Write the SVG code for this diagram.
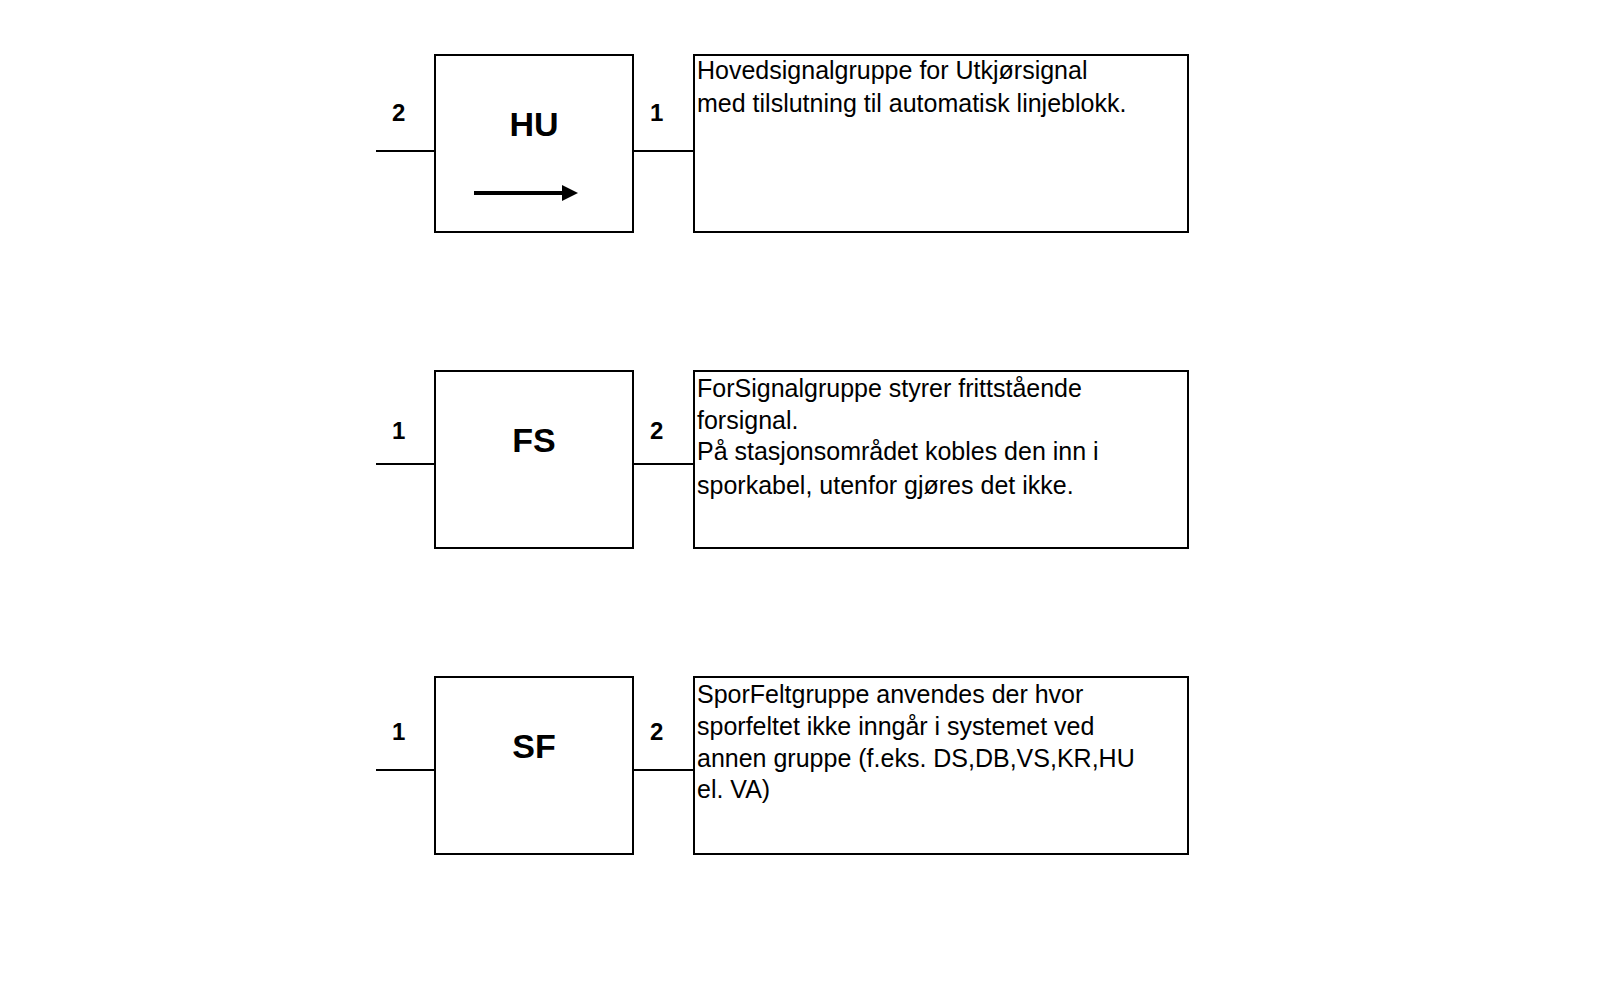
<svg xmlns="http://www.w3.org/2000/svg" width="1600" height="984" viewBox="0 0 1600 984">
<style>
.b{fill:#fff;stroke:#000;stroke-width:2}
.l{stroke:#000;stroke-width:2;fill:none}
.n{font-family:"Liberation Sans",Arial,sans-serif;font-weight:bold;font-size:24px}
.t{font-family:"Liberation Sans",Arial,sans-serif;font-weight:bold;font-size:34px;text-anchor:middle}
.d{font-family:"Liberation Sans",Arial,sans-serif;font-size:25px}
</style>
<defs><marker id="a" markerWidth="4" markerHeight="4" refX="3" refY="2" orient="auto"><path d="M0,0L4,2L0,4z"/></marker></defs>
<rect width="1600" height="984" fill="#fff"/>
<g id="connectors">
<path class="l" d="M376,151H435M633,151H694M376,464H435M633,464H694M376,770H435M633,770H694"/>
</g>
<g id="HU">
<rect class="b" x="435" y="55" width="198" height="177"/>
<text class="t" x="534" y="136">HU</text>
<line x1="474" y1="193" x2="574" y2="193" stroke="#000" stroke-width="4" marker-end="url(#a)"/>
<text class="n" x="392" y="121">2</text><text class="n" x="650" y="121">1</text>
</g>
<g id="HU-desc">
<rect class="b" x="694" y="55" width="494" height="177"/>
<text class="d" x="697" y="79">Hovedsignalgruppe for Utkjørsignal</text>
<text class="d" x="697" y="112">med tilslutning til automatisk linjeblokk.</text>
</g>
<g id="FS">
<rect class="b" x="435" y="371" width="198" height="177"/>
<text class="t" x="534" y="452">FS</text>
<text class="n" x="392" y="439">1</text><text class="n" x="650" y="439">2</text>
</g>
<g id="FS-desc">
<rect class="b" x="694" y="371" width="494" height="177"/>
<text class="d" x="697" y="397">ForSignalgruppe styrer frittstående</text>
<text class="d" x="697" y="429">forsignal.</text>
<text class="d" x="697" y="460">På stasjonsområdet kobles den inn i</text>
<text class="d" x="697" y="494">sporkabel, utenfor gjøres det ikke.</text>
</g>
<g id="SF">
<rect class="b" x="435" y="677" width="198" height="177"/>
<text class="t" x="534" y="758">SF</text>
<text class="n" x="392" y="740">1</text><text class="n" x="650" y="740">2</text>
</g>
<g id="SF-desc">
<rect class="b" x="694" y="677" width="494" height="177"/>
<text class="d" x="697" y="703">SporFeltgruppe anvendes der hvor</text>
<text class="d" x="697" y="735">sporfeltet ikke inngår i systemet ved</text>
<text class="d" x="697" y="767">annen gruppe (f.eks. DS,DB,VS,KR,HU</text>
<text class="d" x="697" y="798">el. VA)</text>
</g>
</svg>
